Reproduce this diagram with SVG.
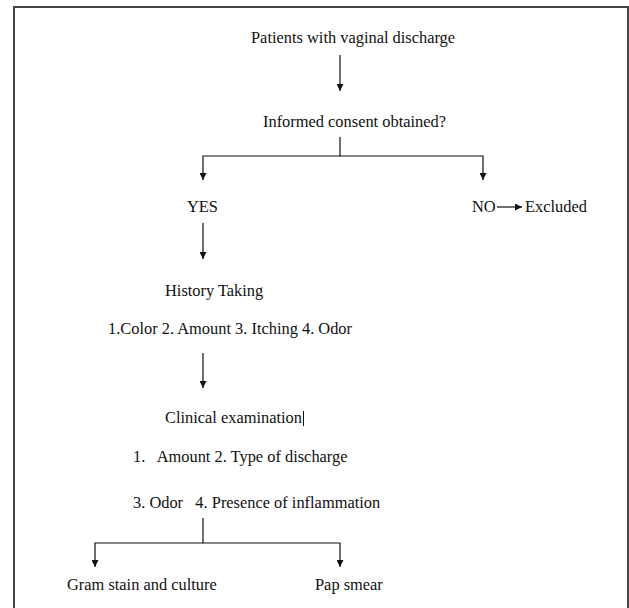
<svg xmlns="http://www.w3.org/2000/svg" width="629" height="608" viewBox="0 0 629 608">
<style>
text{font-family:"Liberation Serif","Times New Roman",serif;font-size:16.4px;fill:#111}
.c{stroke:#111;stroke-width:1.2;fill:none}
</style>
<defs>
<marker id="ah" viewBox="0 0 10 10" refX="10" refY="5" markerWidth="8" markerHeight="7" markerUnits="userSpaceOnUse" orient="auto">
<path d="M0,0 L10,5 L0,10 z" fill="#111"/>
</marker>
</defs>
<rect x="0" y="0" width="629" height="608" fill="#fff"/>
<path d="M14,608 V7 H628 V608" fill="none" stroke="#444" stroke-width="2"/>
<g id="connectors">
<path class="c" d="M340,55 V91" marker-end="url(#ah)"/>
<path class="c" d="M340,137 V156 H203 V180" marker-end="url(#ah)"/>
<path class="c" d="M340,156 H483 V180" marker-end="url(#ah)"/>
<path class="c" d="M497,207 H522" marker-end="url(#ah)"/>
<path class="c" d="M203,223 V259" marker-end="url(#ah)"/>
<path class="c" d="M203,353 V388" marker-end="url(#ah)"/>
<path class="c" d="M203,518 V543 H95 V567" marker-end="url(#ah)"/>
<path class="c" d="M203,543 H340 V567" marker-end="url(#ah)"/>
<path d="M303.5,411 V426" stroke="#111" stroke-width="1"/>
</g>
<g id="n1"><text x="251" y="43">Patients with vaginal discharge</text></g>
<g id="n2"><text x="263" y="127">Informed consent obtained?</text></g>
<g id="n3"><text x="187" y="212">YES</text></g>
<g id="n4"><text x="472" y="212">NO</text><text x="525" y="212">Excluded</text></g>
<g id="n5"><text x="165" y="296">History Taking</text></g>
<g id="n6"><text x="108" y="334">1.Color 2. Amount 3. Itching 4. Odor</text></g>
<g id="n7"><text x="165" y="423">Clinical examination</text></g>
<g id="n8"><text x="133" y="462" xml:space="preserve">1.   Amount 2. Type of discharge</text></g>
<g id="n9"><text x="133" y="508" xml:space="preserve">3. Odor   4. Presence of inflammation</text></g>
<g id="n10"><text x="67" y="590">Gram stain and culture</text></g>
<g id="n11"><text x="315" y="590">Pap smear</text></g>
</svg>
